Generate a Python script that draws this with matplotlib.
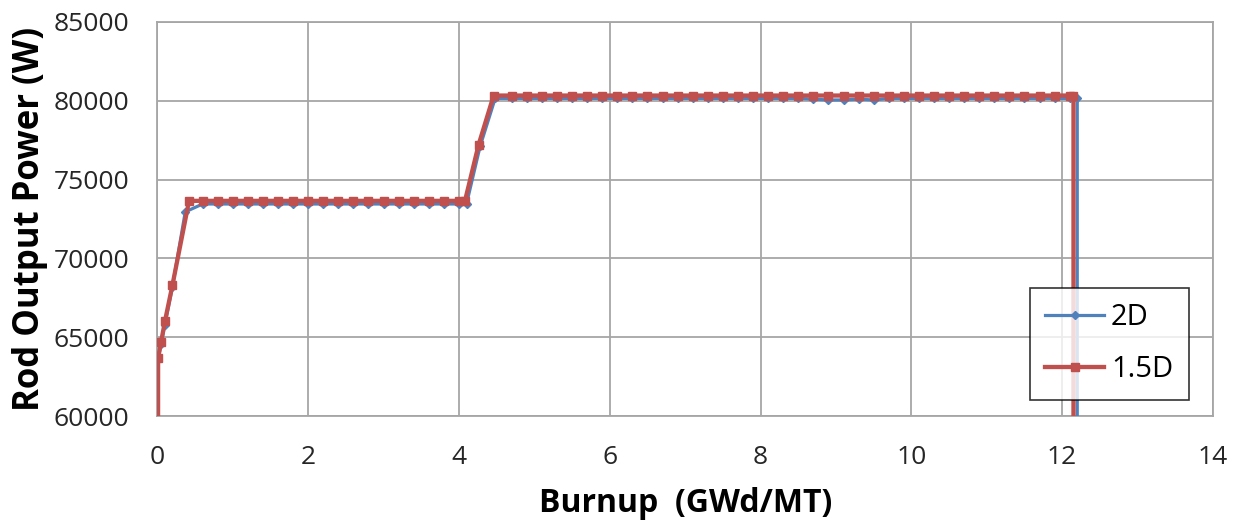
import matplotlib
matplotlib.use("Agg")
from matplotlib import pyplot as plt

# burnup (GWd/MT) and rod power (W)
burnup_2d = [0.0, 0.01, 0.05, 0.1, 0.2, 0.37, 0.6, 0.8, 1.0, 1.2, 1.4, 1.6, 1.8, 2.0,
             2.2, 2.4, 2.6, 2.8, 3.0, 3.2, 3.4, 3.6, 3.8, 4.0, 4.1, 4.28, 4.48,
             4.7, 4.9, 5.1, 5.3, 5.5, 5.7, 5.9, 6.1, 6.3, 6.5, 6.7, 6.9, 7.1, 7.3,
             7.5, 7.7, 7.9, 8.1, 8.3, 8.5, 8.7, 8.9, 9.1, 9.3, 9.5, 9.7, 9.9, 10.1,
             10.3, 10.5, 10.7, 10.9, 11.1, 11.3, 11.5, 11.7, 11.9, 12.1, 12.2, 12.2]
power_2d = [0, 63600, 64600, 65800, 68200, 72950, 73450, 73450, 73450, 73450, 73450,
            73450, 73450, 73450, 73450, 73450, 73450, 73450, 73450, 73450, 73450,
            73450, 73450, 73450, 73450, 77100, 80150,
            80150, 80150, 80150, 80150, 80150, 80150, 80150, 80150, 80150, 80150,
            80150, 80150, 80150, 80150, 80150, 80150, 80150, 80150, 80150, 80150,
            80100, 80050, 80050, 80100, 80050, 80150, 80150, 80150, 80150, 80150,
            80150, 80150, 80150, 80150, 80150, 80150, 80150, 80150, 80150, 0]

burnup_15d = [0.0, 0.01, 0.05, 0.1, 0.2, 0.42, 0.6, 0.8, 1.0, 1.2, 1.4, 1.6, 1.8, 2.0,
              2.2, 2.4, 2.6, 2.8, 3.0, 3.2, 3.4, 3.6, 3.8, 4.0, 4.08, 4.26, 4.46,
              4.7, 4.9, 5.1, 5.3, 5.5, 5.7, 5.9, 6.1, 6.3, 6.5, 6.7, 6.9, 7.1, 7.3,
              7.5, 7.7, 7.9, 8.1, 8.3, 8.5, 8.7, 8.9, 9.1, 9.3, 9.5, 9.7, 9.9, 10.1,
              10.3, 10.5, 10.7, 10.9, 11.1, 11.3, 11.5, 11.7, 11.9, 12.1, 12.15, 12.15]
power_15d = [0, 63700, 64700, 66000, 68300, 73650, 73650, 73650, 73650, 73650, 73650,
             73650, 73650, 73650, 73650, 73650, 73650, 73650, 73650, 73650, 73650,
             73650, 73650, 73650, 73650, 77200, 80330,
             80330, 80330, 80330, 80330, 80330, 80330, 80330, 80330, 80330, 80330,
             80330, 80330, 80330, 80330, 80330, 80330, 80330, 80330, 80330, 80330,
             80330, 80330, 80330, 80330, 80330, 80330, 80330, 80330, 80330, 80330,
             80330, 80330, 80330, 80330, 80330, 80330, 80330, 80330, 80330, 0]

plt.rcParams['font.family'] = ['Open Sans', 'DejaVu Sans']

fig = plt.figure(figsize=(12.39, 5.22), dpi=100)
ax = fig.add_axes([0.127, 0.203, 0.852, 0.755])

ax.plot(burnup_2d, power_2d, color='#4F81BD', lw=2.3, marker='D', ms=4,
        label='2D', zorder=3)
ax.plot(burnup_15d, power_15d, color='#C0504D', lw=3.1, marker='s', ms=5.5,
        label='1.5D', zorder=4)

ax.set_xlim(0, 14)
ax.set_ylim(60000, 85000)
ax.set_xticks(range(0, 15, 2))
ax.set_yticks(range(60000, 85001, 5000))
ax.grid(True, color='#a6a6a6', lw=1.3)
ax.set_axisbelow(True)
for s in ax.spines.values():
    s.set_color('#a6a6a6')
    s.set_linewidth(1.3)
ax.tick_params(length=0, labelsize=19, colors='#262626')
ax.tick_params(axis='y', pad=20)
ax.tick_params(axis='x', pad=21)

ax.set_xlabel('Burnup  (GWd/MT)', fontsize=23, fontweight='bold', labelpad=12)
ax.set_ylabel('Rod Output Power (W)', fontsize=25, fontweight='bold', labelpad=4)

leg = ax.legend(loc='lower right', bbox_to_anchor=(0.977, 0.041),
                fontsize=21, frameon=True, fancybox=False,
                handlelength=2.0, labelspacing=0.8, borderpad=0.53,
                handletextpad=0.25, borderaxespad=0)
leg.get_frame().set_edgecolor('black')
leg.get_frame().set_linewidth(1.2)

plt.savefig('out.png')
